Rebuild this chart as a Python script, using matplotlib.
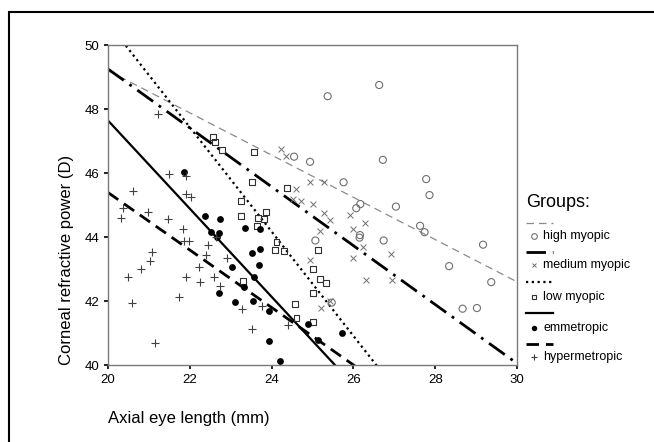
import numpy as np
import matplotlib.pyplot as plt
from matplotlib.lines import Line2D
from matplotlib.patches import Rectangle

plt.rcParams['font.family'] = ['Liberation Sans', 'DejaVu Sans']

# 各組資料 (axial length, corneal power)
high_x = [26.63, 25.37, 24.55, 24.94, 26.72, 27.78, 27.86, 25.76, 26.17, 26.07, 27.04, 27.63,
          27.74, 26.16, 26.15, 26.74, 25.07, 29.17, 28.34, 29.37, 28.67, 29.02, 25.47]
high_y = [48.75, 48.40, 46.51, 46.35, 46.41, 45.81, 45.31, 45.71, 45.03, 44.90, 44.95, 44.35,
          44.15, 44.06, 43.98, 43.89, 43.89, 43.76, 43.09, 42.59, 41.76, 41.78, 41.95]

medium_x = [24.22, 24.34, 24.94, 25.27, 24.60, 24.53, 24.71, 25.00, 25.27, 25.43, 25.92,
            26.29, 25.19, 25.98, 26.24, 26.93, 26.00, 24.95, 26.32, 26.94, 25.22, 25.43]
medium_y = [46.74, 46.53, 45.73, 45.73, 45.51, 45.20, 45.13, 45.04, 44.74, 44.53, 44.68,
            44.44, 44.18, 44.24, 43.69, 43.46, 43.35, 43.28, 42.65, 42.65, 41.79, 42.01]

low_x = [22.57, 22.62, 22.78, 23.58, 23.51, 24.37, 23.25, 23.86, 23.25, 23.67, 23.82, 23.65,
         24.12, 24.08, 24.30, 25.14, 25.02, 25.18, 25.34, 25.02, 23.31, 24.57, 24.61, 25.02]
low_y = [47.13, 46.98, 46.72, 46.65, 45.71, 45.52, 45.13, 44.79, 44.66, 44.58, 44.55, 44.34,
         43.85, 43.58, 43.55, 43.58, 42.99, 42.69, 42.56, 42.26, 42.62, 41.90, 41.48, 41.35]

emm_x = [21.86, 22.37, 22.75, 22.52, 22.72, 22.67, 23.35, 23.72, 23.51, 23.72, 23.68, 23.02,
         23.57, 23.33, 22.71, 23.11, 23.55, 23.94, 23.94, 24.21, 24.90, 25.73, 25.14]
emm_y = [46.02, 44.67, 44.55, 44.15, 44.14, 44.01, 44.29, 44.25, 43.49, 43.64, 43.13, 43.05,
         42.76, 42.45, 42.26, 41.96, 41.99, 41.70, 40.75, 40.13, 41.27, 40.99, 40.78]

hyper_x = [21.23, 21.49, 21.90, 20.60, 20.36, 20.32, 20.99, 21.46, 21.91, 22.02, 21.83, 21.87,
           21.99, 21.07, 21.03, 20.81, 20.50, 21.91, 21.74, 20.58, 21.15, 22.25, 22.23, 22.45,
           22.40, 22.60, 22.75, 22.92, 22.64, 23.27, 23.76, 23.51, 24.41]
hyper_y = [47.84, 45.96, 45.91, 45.44, 44.90, 44.58, 44.79, 44.55, 45.34, 45.26, 44.24, 43.88,
           43.88, 43.54, 43.25, 42.99, 42.74, 42.74, 42.13, 41.95, 40.68, 42.60, 43.07, 43.75,
           43.44, 42.76, 42.47, 43.35, 44.01, 41.74, 41.85, 41.12, 41.25]

group_names = ['high myopic', 'medium myopic', 'low myopic', 'emmetropic', 'hypermetropic']
# 迴歸線: 在 x=20 的值, 斜率
fit_at20 = [49.2, 49.25, 50.69, 47.64, 45.39]
fit_slope = [-0.66, -0.92, -1.63, -1.377, -0.898]

# 樣式
line_styles = [dict(color='#8a8a8a', lw=0.9, ls=(0, (6, 4))),
               dict(color='black', lw=2.0, ls=(0, (7, 2.5, 1, 2.5))),
               dict(color='black', lw=1.6, ls=(0, (1, 1.6))),
               dict(color='black', lw=1.6, ls='-'),
               dict(color='black', lw=2.0, ls=(0, (4.5, 2.5)))]
marker_styles = [dict(marker='o', s=26, facecolors='none', edgecolors='#707070', linewidths=0.8),
                 dict(marker='x', s=18, c='#707070', linewidths=0.7),
                 dict(marker='s', s=18, facecolors='none', edgecolors='#303030', linewidths=0.8),
                 dict(marker='o', s=24, c='black', linewidths=0),
                 dict(marker='+', s=30, c='#404040', linewidths=0.8)]

fig = plt.figure(figsize=(6.54, 4.42), dpi=100)
ax = fig.add_axes([108/654, 1 - 365/442, 409/654, 320/442])

xs = [high_x, medium_x, low_x, emm_x, hyper_x]
ys = [high_y, medium_y, low_y, emm_y, hyper_y]
for i in range(5):
    ax.scatter(xs[i], ys[i], zorder=3, **marker_styles[i])

xx = np.array([20, 30])
for i in range(5):
    ax.plot(xx, fit_at20[i] + fit_slope[i] * (xx - 20), zorder=2, **line_styles[i])

ax.set_xlim(20, 30)
ax.set_ylim(40, 50)
ax.set_xticks(range(20, 31, 2))
ax.set_yticks(range(40, 51, 2))
ax.tick_params(direction='out', length=3, width=1.2, labelsize=9.5, colors='black')
for sp in ax.spines.values():
    sp.set_color('#7a7a7a')
    sp.set_linewidth(1.0)

fig.text(66/654, 1 - 260/442, 'Corneal refractive power (D)', rotation=90,
         ha='center', va='center', fontsize=12)
fig.text(108/654, 1 - 418/442, 'Axial eye length (mm)', ha='left', va='center', fontsize=12)

# 圖例 (手動)
fig.text(526/654, 1 - 203/442, 'Groups:', ha='left', va='center', fontsize=13)
line_rows = [223, 252, 282, 313, 344]
mark_rows = [236, 265, 297, 328, 357]
for i in range(5):
    ly = 1 - line_rows[i] / 442
    fig.add_artist(Line2D([526/654, 553/654], [ly, ly], **line_styles[i]))
    my = 1 - mark_rows[i] / 442
    ms = dict(marker_styles[i])
    size = ms.pop('s')
    fc = ms.pop('facecolors', None)
    ec = ms.pop('edgecolors', None)
    c = ms.pop('c', None)
    lw = ms.pop('linewidths')
    fig.add_artist(Line2D([534/654], [my], marker=ms['marker'], markersize=np.sqrt(size) * 0.8,
                          markerfacecolor=fc if fc is not None else c,
                          markeredgecolor=ec if ec is not None else c,
                          markeredgewidth=lw, ls='none'))
    fig.text(543/654, my, group_names[i], ha='left', va='center', fontsize=9)

# 外框
fig.add_artist(Rectangle((9/654, 1 - 460/442), 700/654, 448/442, fill=False,
                         edgecolor='black', lw=1.5, transform=fig.transFigure))

fig.savefig('out.png', dpi=100)
